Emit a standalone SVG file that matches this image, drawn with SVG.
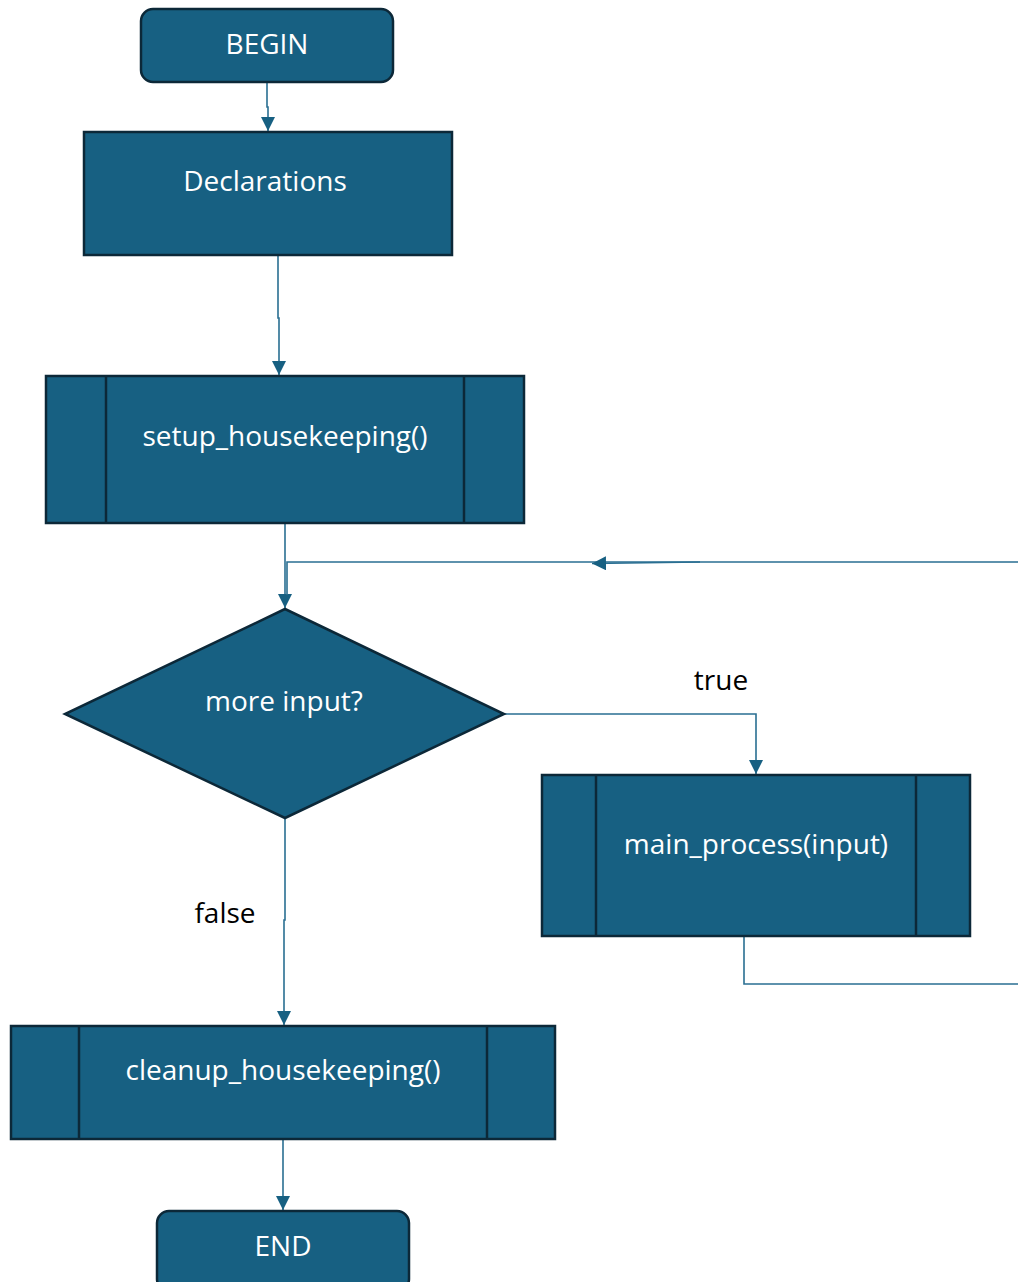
<svg xmlns="http://www.w3.org/2000/svg" width="1018" height="1282" viewBox="0 0 1018 1282">
  <defs>
    <marker id="arrow" viewBox="0 0 14 14" refX="14" refY="7" markerWidth="14" markerHeight="14" markerUnits="userSpaceOnUse" orient="auto">
      <path d="M0,0 L14,7 L0,14 Z" fill="#176082"/>
    </marker>
    <style>
      .shape { fill: #176082; stroke: #0c2838; stroke-width: 2.5; }
      .divider { fill: none; stroke: #0c2838; stroke-width: 2.5; }
      .label { font-family: "Open Sans", "Noto Sans", sans-serif; font-size: 28px; fill: #ffffff; text-anchor: middle; }
      .edge-label { font-family: "Open Sans", "Noto Sans", sans-serif; font-size: 28px; fill: #000000; text-anchor: middle; }
      .edge { fill: none; stroke: #2a6f92; stroke-width: 1.6; }
    </style>
  </defs>
  <rect width="1018" height="1282" fill="#ffffff"/>

  <!-- connectors -->
  <g id="connectors">
    <path class="edge" d="M267,82 L267,107 L268,107 L268,131" marker-end="url(#arrow)"/>
    <path class="edge" d="M278,255 L278,318 L279,318 L279,375" marker-end="url(#arrow)"/>
    <path class="edge" d="M285,523 L285,608" marker-end="url(#arrow)"/>
    <path class="edge" d="M1018,562 L287,562 L287,595"/>
    <path class="edge" d="M700,562 L592,563.5" marker-end="url(#arrow)"/>
    <path class="edge" d="M504,714 L756,714 L756,774" marker-end="url(#arrow)"/>
    <path class="edge" d="M744,937 L744,984 L1018,984"/>
    <path class="edge" d="M285,818 L285,920 L284,920 L284,1025" marker-end="url(#arrow)"/>
    <path class="edge" d="M283,1140 L283,1210" marker-end="url(#arrow)"/>
    <text class="edge-label" x="721" y="690">true</text>
    <text class="edge-label" x="225" y="923">false</text>
  </g>

  <g id="begin">
    <rect class="shape" x="141" y="9" width="252" height="73" rx="12"/>
    <text class="label" x="267" y="54">BEGIN</text>
  </g>

  <g id="declarations">
    <rect class="shape" x="84" y="132" width="368" height="123"/>
    <text class="label" x="265" y="191">Declarations</text>
  </g>

  <g id="setup-housekeeping">
    <rect class="shape" x="46" y="376" width="478" height="147"/>
    <path class="divider" d="M106,376 V523 M464,376 V523"/>
    <text class="label" x="285" y="446">setup_housekeeping()</text>
  </g>

  <g id="more-input">
    <path class="shape" d="M285,609 L504,714 L285,818 L65,714 Z"/>
    <text class="label" x="284" y="711">more input?</text>
  </g>

  <g id="main-process">
    <rect class="shape" x="542" y="775" width="428" height="161"/>
    <path class="divider" d="M596,775 V936 M916,775 V936"/>
    <text class="label" x="756" y="854">main_process(input)</text>
  </g>

  <g id="cleanup-housekeeping">
    <rect class="shape" x="11" y="1026" width="544" height="113"/>
    <path class="divider" d="M79,1026 V1139 M487,1026 V1139"/>
    <text class="label" x="283" y="1080">cleanup_housekeeping()</text>
  </g>

  <g id="end">
    <rect class="shape" x="157" y="1211" width="252" height="80" rx="12"/>
    <text class="label" x="283" y="1256">END</text>
  </g>
</svg>
